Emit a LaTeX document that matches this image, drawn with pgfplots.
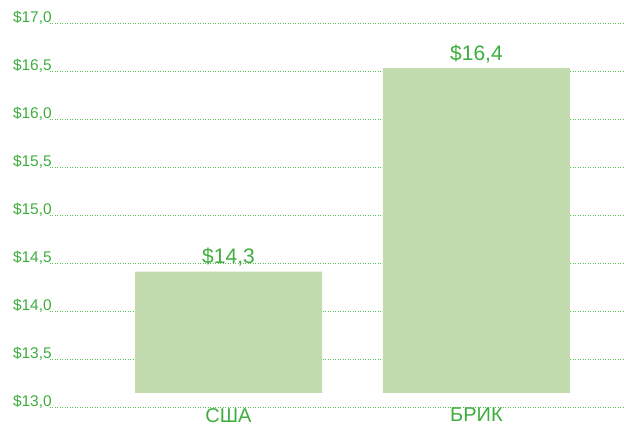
\documentclass[border=0pt]{standalone}
\usepackage{fontspec}
\setmainfont{Liberation Sans}
\usepackage{pgfplots}
\pgfplotsset{compat=1.18}

\definecolor{txtgreen}{HTML}{3DAE3D}
\definecolor{bargreen}{HTML}{C2DCB0}
\definecolor{gridgreen}{HTML}{5CBC5C}

\begin{document}
\begin{tikzpicture}
\begin{axis}[
    scale only axis,
    width=574pt, height=384pt,
    xmin=-0.72, xmax=1.595,
    ymin=13, ymax=17,
    ybar stacked,
    bar width=187pt,
    axis line style={draw=none},
    major tick length=0pt,
    xtick={0,1},
    xticklabels={США,БРИК},
    ytick={13,13.5,14,14.5,15,15.5,16,16.5,17},
    yticklabels={{\$13,0},{\$13,5},{\$14,0},{\$14,5},{\$15,0},{\$15,5},{\$16,0},{\$16,5},{\$17,0}},
    yticklabel style={font=\fontsize{15.5}{17}\selectfont, text=txtgreen, anchor=base east, inner sep=0pt, xshift=2pt},
    xticklabel style={font=\fontsize{20}{22}\selectfont, text=txtgreen, anchor=north, inner sep=0pt, yshift=-1pt},
    ymajorgrids,
    grid style={gridgreen, line width=0.7pt, dash pattern=on 0.9pt off 1.6pt},
    clip=false,
]
% invisible base so the bars start a little above the axis floor
\addplot[draw=none, fill=none, forget plot] coordinates {(0,13.146) (1,13.146)};
\addplot[draw=none, fill=bargreen] coordinates {(0,1.264) (1,3.384)};
\node[font=\fontsize{21}{23}\selectfont, text=txtgreen, anchor=base, yshift=8pt] at (axis cs:0,14.41) {\$14,3};
\node[font=\fontsize{21}{23}\selectfont, text=txtgreen, anchor=base, yshift=8pt] at (axis cs:1,16.53) {\$16,4};
\end{axis}
\pgfresetboundingbox
\path ([shift={(-50pt,-18pt)}]current axis.south west) rectangle ([shift={(0pt,23pt)}]current axis.north east);
\end{tikzpicture}
\end{document}
